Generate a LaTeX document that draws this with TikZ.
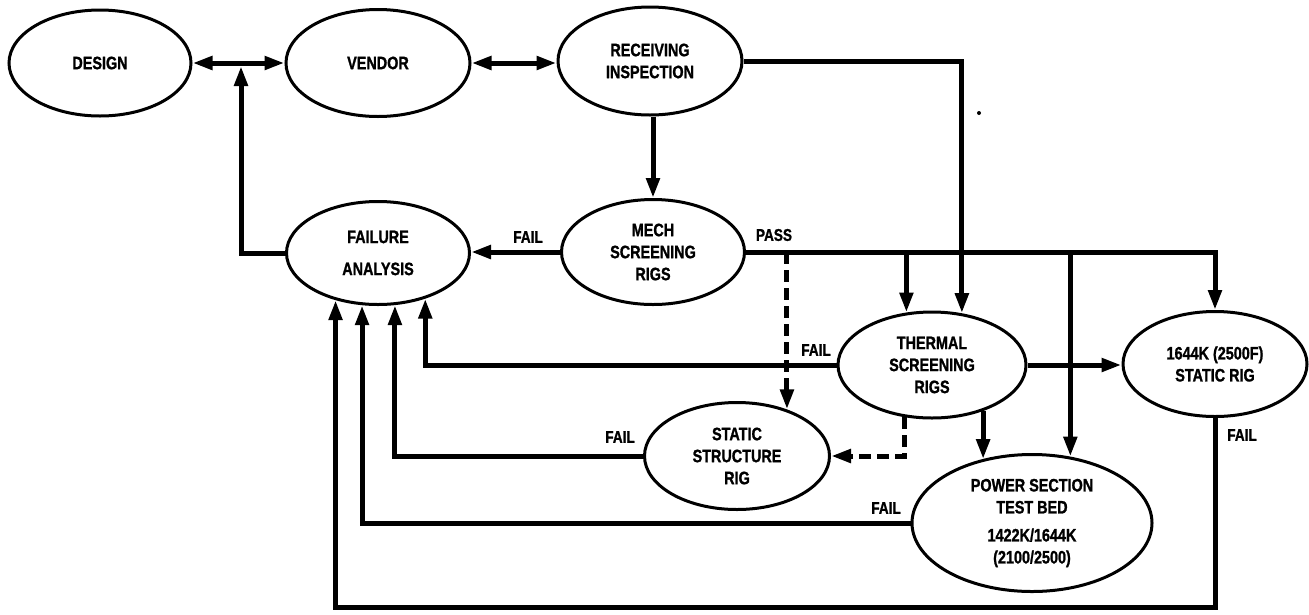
\documentclass[tikz,border=0pt]{standalone}
\usepackage{fontspec}
\newfontfamily\lbl{Liberation Sans Bold}[FakeStretch=0.8, FakeBold=1.2]
\usetikzlibrary{arrows.meta,shapes.geometric}
\begin{document}
\begin{tikzpicture}[x=1pt,y=-1pt,
  >={Triangle[length=20pt,width=13pt]},
  oval/.style={ellipse, draw, line width=3pt, inner sep=0pt, align=center,
    font=\lbl\fontsize{18}{22}\selectfont},
  conn/.style={line width=5pt},
  dconn/.style={line width=5pt, dash pattern=on 12pt off 6pt},
  lab/.style={font=\lbl\fontsize{17}{20}\selectfont, inner sep=0pt}]
\useasboundingbox (0,0) rectangle (1309,614);

\node[oval, minimum width=182pt, minimum height=106pt] (design) at (100,63) {DESIGN};
\node[oval, minimum width=184pt, minimum height=107pt] (vendor) at (378,63) {VENDOR};
\node[oval, minimum width=184pt, minimum height=108pt] (recv) at (650,61) {RECEIVING\\INSPECTION};
\node[oval, minimum width=183pt, minimum height=105pt] (mech) at (653,252) {MECH\\SCREENING\\RIGS};
\node[oval, minimum width=183pt, minimum height=103pt] (fa) at (378,253) {FAILURE\\[10pt]ANALYSIS};
\node[oval, minimum width=188pt, minimum height=106pt] (thermal) at (932,365) {THERMAL\\SCREENING\\RIGS};
\node[oval, minimum width=184pt, minimum height=105pt] (hot) at (1215,364) {1644K (2500F)\\STATIC RIG};
\node[oval, minimum width=185pt, minimum height=107pt] (static) at (737,456) {STATIC\\STRUCTURE\\RIG};
\node[oval, minimum width=240pt, minimum height=137pt] (power) at (1032,523) {POWER SECTION\\TEST BED\\[6pt]1422K/1644K\\(2100/2500)};

\coordinate (j) at (241,66);
\coordinate (bot) at (0,607);

% top row
\draw[conn,<->] (design.east) -- (design.east -| vendor.west);
\draw[conn,<->] (vendor.east) -- (vendor.east -| recv.west);
\draw[conn,->] (fa.west) -| (j);
\draw[conn,->] (recv.south -| mech.north) -- (mech.north);

% mech outputs
\draw[conn,->] (mech.west) -- (mech.west -| fa.east);
\node[lab] (failm) at (528,237) {FAIL};
\draw[conn,->] (mech.east) -| (hot.north);
\node[lab] (pass) at (774,235) {PASS};
\draw[conn,->] (thermal.116 |- mech.east) -- (thermal.116);
\draw[conn,->] (power.60.4 |- mech.east) -- (power.60.4);
\draw[dconn,->] (static.43.6 |- mech.east) -- (static.43.6);

% receiving to thermal
\draw[conn,->] (recv.east) -| (thermal.60.1);

% thermal outputs
\draw[conn,->] (thermal.east) -- (thermal.east -| hot.west);
\draw[conn,->] (thermal.318.9) -- (thermal.318.9 |- power.128.1);
\draw[dconn,->] (thermal.242.9) |- (static.east);
\draw[conn,->] (thermal.west) -| (fa.316.8);
\node[lab] (failt) at (816,350) {FAIL};

% fail returns
\draw[conn,->] (static.west) -| (fa.288.6);
\node[lab] (fails) at (620,437) {FAIL};
\draw[conn,->] (power.west) -| (fa.253.5);
\node[lab] (failp) at (886,508) {FAIL};
\draw[conn,->] (hot.south) -- (hot.south |- bot) -| (fa.228.3);
\node[lab] (failh) at (1242,435) {FAIL};

\fill (979,113) circle (2pt);
\end{tikzpicture}
\end{document}
